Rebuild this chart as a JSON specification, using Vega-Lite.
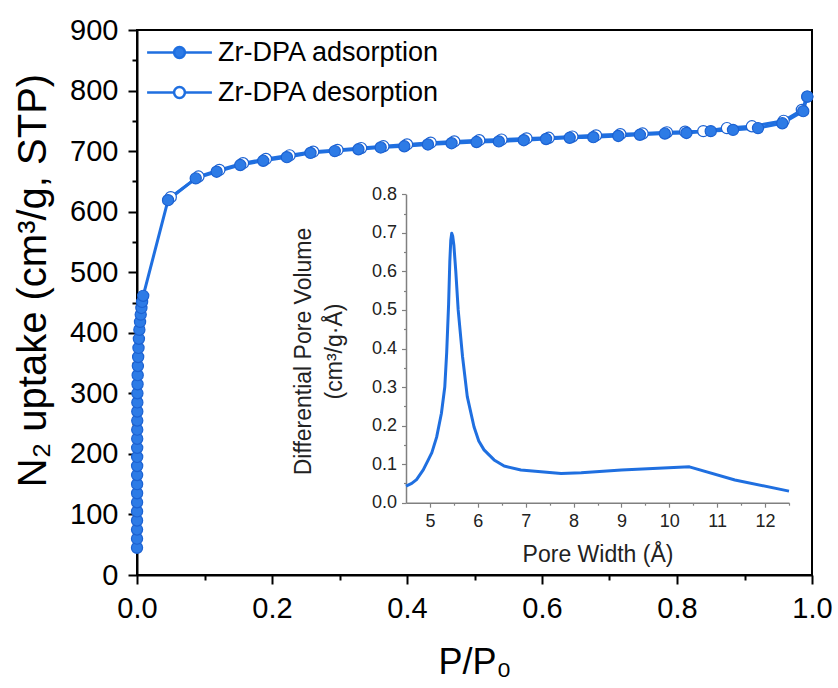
{
  "$schema": "https://vega.github.io/schema/vega-lite/v6.json",
  "width": 675,
  "height": 545,
  "autosize": "none",
  "padding": {"left": 137, "top": 30, "right": 26, "bottom": 113},
  "background": "white",
  "config": {
    "font": "Liberation Sans",
    "view": {"stroke": "#000000", "strokeWidth": 2},
    "axis": {"labelFont": "Liberation Sans", "titleFont": "Liberation Sans", "grid": false, "titleFontWeight": "normal"}
  },
  "datasets": {
    "iso": [
      {"p": 0.050, "v": 624, "s": "Zr-DPA desorption"},
      {"p": 0.091, "v": 658, "s": "Zr-DPA desorption"},
      {"p": 0.122, "v": 669, "s": "Zr-DPA desorption"},
      {"p": 0.157, "v": 680, "s": "Zr-DPA desorption"},
      {"p": 0.191, "v": 687, "s": "Zr-DPA desorption"},
      {"p": 0.226, "v": 693, "s": "Zr-DPA desorption"},
      {"p": 0.261, "v": 699, "s": "Zr-DPA desorption"},
      {"p": 0.297, "v": 702, "s": "Zr-DPA desorption"},
      {"p": 0.332, "v": 705, "s": "Zr-DPA desorption"},
      {"p": 0.365, "v": 708, "s": "Zr-DPA desorption"},
      {"p": 0.400, "v": 711, "s": "Zr-DPA desorption"},
      {"p": 0.435, "v": 714, "s": "Zr-DPA desorption"},
      {"p": 0.470, "v": 716, "s": "Zr-DPA desorption"},
      {"p": 0.507, "v": 718, "s": "Zr-DPA desorption"},
      {"p": 0.540, "v": 719, "s": "Zr-DPA desorption"},
      {"p": 0.577, "v": 721, "s": "Zr-DPA desorption"},
      {"p": 0.610, "v": 722, "s": "Zr-DPA desorption"},
      {"p": 0.645, "v": 724, "s": "Zr-DPA desorption"},
      {"p": 0.680, "v": 726, "s": "Zr-DPA desorption"},
      {"p": 0.716, "v": 728, "s": "Zr-DPA desorption"},
      {"p": 0.749, "v": 729, "s": "Zr-DPA desorption"},
      {"p": 0.785, "v": 731, "s": "Zr-DPA desorption"},
      {"p": 0.812, "v": 732, "s": "Zr-DPA desorption"},
      {"p": 0.839, "v": 733, "s": "Zr-DPA desorption"},
      {"p": 0.874, "v": 738, "s": "Zr-DPA desorption"},
      {"p": 0.911, "v": 741, "s": "Zr-DPA desorption"},
      {"p": 0.958, "v": 750, "s": "Zr-DPA desorption"},
      {"p": 0.985, "v": 768, "s": "Zr-DPA desorption"},
      {"p": 0.993, "v": 790, "s": "Zr-DPA desorption"},
      {"p": 0.00002, "v": 45, "s": "Zr-DPA adsorption"},
      {"p": 0.00004, "v": 60, "s": "Zr-DPA adsorption"},
      {"p": 0.00006, "v": 75, "s": "Zr-DPA adsorption"},
      {"p": 0.00008, "v": 90, "s": "Zr-DPA adsorption"},
      {"p": 0.0001, "v": 105, "s": "Zr-DPA adsorption"},
      {"p": 0.00012, "v": 120, "s": "Zr-DPA adsorption"},
      {"p": 0.00014, "v": 135, "s": "Zr-DPA adsorption"},
      {"p": 0.00016, "v": 150, "s": "Zr-DPA adsorption"},
      {"p": 0.00018, "v": 165, "s": "Zr-DPA adsorption"},
      {"p": 0.0002, "v": 180, "s": "Zr-DPA adsorption"},
      {"p": 0.00023, "v": 195, "s": "Zr-DPA adsorption"},
      {"p": 0.00026, "v": 210, "s": "Zr-DPA adsorption"},
      {"p": 0.0003, "v": 225, "s": "Zr-DPA adsorption"},
      {"p": 0.00034, "v": 240, "s": "Zr-DPA adsorption"},
      {"p": 0.00038, "v": 255, "s": "Zr-DPA adsorption"},
      {"p": 0.00043, "v": 270, "s": "Zr-DPA adsorption"},
      {"p": 0.0005, "v": 285, "s": "Zr-DPA adsorption"},
      {"p": 0.0006, "v": 300, "s": "Zr-DPA adsorption"},
      {"p": 0.0008, "v": 315, "s": "Zr-DPA adsorption"},
      {"p": 0.001, "v": 330, "s": "Zr-DPA adsorption"},
      {"p": 0.0013, "v": 345, "s": "Zr-DPA adsorption"},
      {"p": 0.0017, "v": 360, "s": "Zr-DPA adsorption"},
      {"p": 0.0022, "v": 375, "s": "Zr-DPA adsorption"},
      {"p": 0.0028, "v": 390, "s": "Zr-DPA adsorption"},
      {"p": 0.0035, "v": 405, "s": "Zr-DPA adsorption"},
      {"p": 0.0045, "v": 418, "s": "Zr-DPA adsorption"},
      {"p": 0.0055, "v": 430, "s": "Zr-DPA adsorption"},
      {"p": 0.0065, "v": 441, "s": "Zr-DPA adsorption"},
      {"p": 0.0075, "v": 451, "s": "Zr-DPA adsorption"},
      {"p": 0.0092, "v": 461, "s": "Zr-DPA adsorption"},
      {"p": 0.046, "v": 619, "s": "Zr-DPA adsorption"},
      {"p": 0.087, "v": 655, "s": "Zr-DPA adsorption"},
      {"p": 0.118, "v": 666, "s": "Zr-DPA adsorption"},
      {"p": 0.153, "v": 677, "s": "Zr-DPA adsorption"},
      {"p": 0.187, "v": 684, "s": "Zr-DPA adsorption"},
      {"p": 0.222, "v": 690, "s": "Zr-DPA adsorption"},
      {"p": 0.257, "v": 697, "s": "Zr-DPA adsorption"},
      {"p": 0.293, "v": 700, "s": "Zr-DPA adsorption"},
      {"p": 0.328, "v": 703, "s": "Zr-DPA adsorption"},
      {"p": 0.361, "v": 706, "s": "Zr-DPA adsorption"},
      {"p": 0.396, "v": 708, "s": "Zr-DPA adsorption"},
      {"p": 0.431, "v": 711, "s": "Zr-DPA adsorption"},
      {"p": 0.466, "v": 713, "s": "Zr-DPA adsorption"},
      {"p": 0.503, "v": 715, "s": "Zr-DPA adsorption"},
      {"p": 0.536, "v": 716, "s": "Zr-DPA adsorption"},
      {"p": 0.573, "v": 718, "s": "Zr-DPA adsorption"},
      {"p": 0.606, "v": 720, "s": "Zr-DPA adsorption"},
      {"p": 0.641, "v": 722, "s": "Zr-DPA adsorption"},
      {"p": 0.676, "v": 723, "s": "Zr-DPA adsorption"},
      {"p": 0.713, "v": 725, "s": "Zr-DPA adsorption"},
      {"p": 0.745, "v": 727, "s": "Zr-DPA adsorption"},
      {"p": 0.782, "v": 729, "s": "Zr-DPA adsorption"},
      {"p": 0.814, "v": 730, "s": "Zr-DPA adsorption"},
      {"p": 0.850, "v": 733, "s": "Zr-DPA adsorption"},
      {"p": 0.883, "v": 735, "s": "Zr-DPA adsorption"},
      {"p": 0.920, "v": 738, "s": "Zr-DPA adsorption"},
      {"p": 0.956, "v": 746, "s": "Zr-DPA adsorption"},
      {"p": 0.987, "v": 766, "s": "Zr-DPA adsorption"},
      {"p": 0.993, "v": 790, "s": "Zr-DPA adsorption"}
    ],
    "psd": [
      {"w": 4.50, "d": 0.043},
      {"w": 4.62, "d": 0.050},
      {"w": 4.72, "d": 0.060},
      {"w": 4.86, "d": 0.085},
      {"w": 4.96, "d": 0.110},
      {"w": 5.04, "d": 0.130},
      {"w": 5.14, "d": 0.170},
      {"w": 5.24, "d": 0.232},
      {"w": 5.31, "d": 0.300},
      {"w": 5.35, "d": 0.390},
      {"w": 5.39, "d": 0.515},
      {"w": 5.415, "d": 0.625},
      {"w": 5.435, "d": 0.680},
      {"w": 5.455, "d": 0.699},
      {"w": 5.475, "d": 0.692},
      {"w": 5.50, "d": 0.668},
      {"w": 5.54, "d": 0.600},
      {"w": 5.59, "d": 0.500},
      {"w": 5.68, "d": 0.380},
      {"w": 5.78, "d": 0.275},
      {"w": 5.92, "d": 0.197},
      {"w": 6.02, "d": 0.160},
      {"w": 6.13, "d": 0.137},
      {"w": 6.34, "d": 0.111},
      {"w": 6.55, "d": 0.095},
      {"w": 6.90, "d": 0.085},
      {"w": 7.32, "d": 0.080},
      {"w": 7.74, "d": 0.076},
      {"w": 8.16, "d": 0.078},
      {"w": 9.00, "d": 0.085},
      {"w": 10.42, "d": 0.093},
      {"w": 11.37, "d": 0.059},
      {"w": 12.50, "d": 0.030}
    ]
  },
  "layer": [
    {
      "data": {"name": "iso"},
      "encoding": {
        "x": {
          "field": "p", "type": "quantitative",
          "scale": {"domain": [0, 1], "nice": false, "zero": false},
          "axis": {
            "orient": "bottom",
            "values": [0, 0.1, 0.2, 0.3, 0.4, 0.5, 0.6, 0.7, 0.8, 0.9, 1],
            "labelExpr": "round(datum.value*10) % 2 === 0 ? format(datum.value, '.1f') : ''",
            "tickSize": {"condition": {"test": "round(datum.value*10) % 2 !== 0", "value": 5}, "value": 9},
            "tickWidth": 2, "tickColor": "#000000",
            "domainWidth": 2, "domainColor": "#000000",
            "labelFontSize": 29, "labelColor": "#000000", "labelPadding": 10,
            "labelFlush": false, "labelOverlap": false,
            "title": "P/P₀", "titleFontSize": 36, "titleColor": "#000000",
            "titleY": 98, "titleBaseline": "alphabetic"
          }
        },
        "y": {
          "field": "v", "type": "quantitative",
          "scale": {"domain": [0, 900], "nice": false},
          "axis": {
            "orient": "left",
            "values": [0, 50, 100, 150, 200, 250, 300, 350, 400, 450, 500, 550, 600, 650, 700, 750, 800, 850, 900],
            "labelExpr": "datum.value % 100 === 0 ? datum.label : ''",
            "tickSize": {"condition": {"test": "datum.value % 100 !== 0", "value": 5}, "value": 9},
            "tickWidth": 2, "tickColor": "#000000",
            "domainWidth": 2, "domainColor": "#000000",
            "labelFontSize": 29, "labelColor": "#000000", "labelPadding": 10,
            "labelOverlap": false, "labelFlush": false,
            "title": "N₂ uptake (cm³/g, STP)", "titleFontSize": 40, "titleColor": "#000000",
            "titleAngle": 270, "titleX": -92, "titleY": 250, "titleBaseline": "alphabetic", "titleAlign": "center"
          }
        }
      },
      "layer": [
        {
          "mark": {"type": "line", "strokeWidth": 3, "color": "#1f6fe0"},
          "encoding": {"detail": {"field": "s", "type": "nominal"}}
        },
        {
          "mark": {"type": "point", "filled": true, "size": 125, "opacity": 1, "stroke": "#1c62d2", "strokeWidth": 1.2},
          "encoding": {
            "fill": {
              "field": "s", "type": "nominal",
              "scale": {"domain": ["Zr-DPA adsorption", "Zr-DPA desorption"], "range": ["#2d7be6", "#ffffff"]},
              "legend": {
                "orient": "none", "legendX": 29, "legendY": 9,
                "title": null, "padding": 0,
                "labelFontSize": 27, "labelColor": "#000000", "labelFont": "Liberation Sans", "labelLimit": 500,
                "symbolType": "M-5.4,0L-0.9,0M0.9,0L5.4,0M0.9,0A0.9,0.9,0,1,1,-0.9,0A0.9,0.9,0,1,1,0.9,0Z",
                "symbolSize": 144, "symbolStrokeColor": "#1f6fe0", "symbolStrokeWidth": 2.5, "symbolOpacity": 1,
                "labelOffset": 25, "rowPadding": 12,
                "encode": {"symbols": {"update": {"stroke": {"value": "#1f6fe0"}, "strokeWidth": {"value": 2.5}}}}
              }
            }
          }
        }
      ]
    },
    {
      "data": {"name": "psd"},
      "encoding": {
        "x": {
          "field": "w", "type": "quantitative",
          "scale": {"domain": [4.5, 12.5], "range": [269, 652], "nice": false, "zero": false},
          "axis": {
            "orient": "bottom", "offset": -72.3,
            "values": [5, 5.5, 6, 6.5, 7, 7.5, 8, 8.5, 9, 9.5, 10, 10.5, 11, 11.5, 12, 12.5],
            "labelExpr": "datum.value % 1 === 0 ? format(datum.value, 'd') : ''",
            "tickSize": {"condition": {"test": "datum.value % 1 !== 0", "value": 2.5}, "value": 4.5},
            "tickWidth": 1.2, "tickColor": "#808080",
            "domainWidth": 1.5, "domainColor": "#808080",
            "labelFontSize": 18, "labelColor": "#222222", "labelPadding": 5,
            "labelFlush": false, "labelOverlap": false,
            "title": "Pore Width (Å)", "titleFontSize": 23, "titleColor": "#222222",
            "titleY": 59, "titleBaseline": "alphabetic"
          }
        },
        "y": {
          "field": "d", "type": "quantitative",
          "scale": {"domain": [0, 0.8], "range": [472.7, 164.3], "nice": false},
          "axis": {
            "orient": "left", "offset": -269,
            "values": [0, 0.05, 0.1, 0.15, 0.2, 0.25, 0.3, 0.35, 0.4, 0.45, 0.5, 0.55, 0.6, 0.65, 0.7, 0.75, 0.8],
            "labelExpr": "round(datum.value*100) % 10 === 0 ? format(datum.value, '.1f') : ''",
            "tickSize": {"condition": {"test": "round(datum.value*100) % 10 !== 0", "value": 2.5}, "value": 4.5},
            "tickWidth": 1.2, "tickColor": "#808080",
            "domainWidth": 1.5, "domainColor": "#808080",
            "labelFontSize": 18, "labelColor": "#222222", "labelPadding": 5,
            "labelFlush": false, "labelOverlap": false,
            "title": ["Differential Pore Volume", "(cm³/g·Å)"], "titleFontSize": 23, "titleColor": "#222222",
            "titleAngle": 270, "titleX": -96, "titleY": 321, "titleBaseline": "alphabetic", "titleAlign": "center", "titleLineHeight": 31
          }
        }
      },
      "layer": [
        {
          "data": {"values": [{}]},
          "mark": {"type": "rule", "color": "#000000", "strokeWidth": 1.5},
          "encoding": {"x": {"datum": 4.5}, "x2": {"datum": 12.5}, "y": {"datum": 0.8}}
        },
        {
          "data": {"values": [{}]},
          "mark": {"type": "rule", "color": "#808080", "strokeWidth": 1.5},
          "encoding": {"x": {"datum": 12.5}, "y": {"datum": 0}, "y2": {"datum": 0.8}}
        },
        {
          "mark": {"type": "line", "strokeWidth": 3, "color": "#1f6fe0", "interpolate": "linear", "strokeJoin": "round"}
        }
      ]
    }
  ],
  "resolve": {
    "scale": {"x": "independent", "y": "independent"},
    "axis": {"x": "independent", "y": "independent"}
  }
}
